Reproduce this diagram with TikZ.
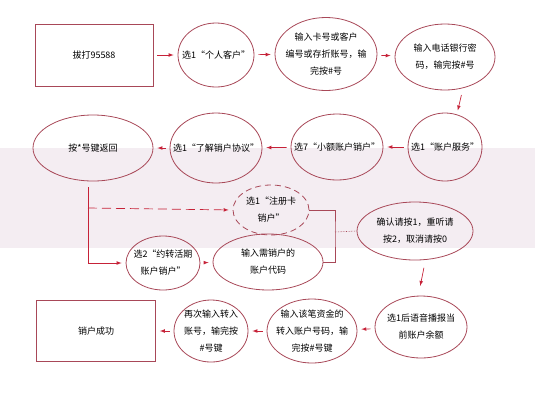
\documentclass[tikz,border=0pt]{standalone}
\usepackage{fontspec}
\setmainfont{Noto Sans CJK SC}
\usetikzlibrary{shapes,calc,positioning}
\definecolor{lineRed}{RGB}{168,72,88}
\definecolor{arrowRed}{RGB}{198,34,56}
\definecolor{bandPink}{RGB}{244,237,242}

\begin{document}
\begin{tikzpicture}[x=1pt,y=-1pt,>=latex,font=\fontsize{9}{17}\selectfont]
  \tikzstyle{stage}=[ellipse,draw=lineRed,line width=0.8pt,inner sep=0pt]
  \tikzstyle{endbox}=[rectangle,draw=lineRed,line width=0.8pt,inner sep=0pt]
  \tikzstyle{link}=[->,draw=arrowRed,line width=0.7pt,shorten <=4pt,shorten >=4pt]
  \tikzstyle{bracket}=[draw=lineRed,line width=0.6pt]
  \fill[bandPink] (0,148) rectangle (535,248);
  \useasboundingbox (0,0) rectangle (535,400);
  \node[endbox,minimum width=118,minimum height=62] (dial) at (94,55) {拔打95588};
  \node[endbox,minimum width=119,minimum height=61] (done) at (96,331) {销户成功};
  \foreach \name/\x/\y/\w/\h/\txt in {
    personal/216/55/76/64/{选1“个人客户”},
    cardno/326/54/102/73/{输入卡号或客户\\编号或存折账号，输\\完按\#号},
    password/445/57/100/66/{输入电话银行密\\码，输完按\#号},
    acctsvc/445/147/74/68/{选1“账户服务”},
    smallacct/337/147/92/66/{选7“小额账户销户”},
    protocol/216/148/92/70/{选1“了解销户协议”},
    back/93/148/120/66/{按*号键返回},
    fixed/163/263/74/54/{选2“约转活期\\账户销户”},
    acctcode/268/262/110/56/{输入需销户的\\账户代码},
    confirm/415/231/116/58/{确认请按1，重听请\\按2，取消请按0},
    balance/421/327/92/62/{选1后语音播报当\\前账户余额},
    transfer/312/331/90/64/{输入该笔资金的\\转入账户号码，输\\完按\#号键},
    again/211/331/74/62/{再次输入转入\\账号，输完按\\\#号键}}{
    \node[stage,minimum width=\w,minimum height=\h] (\name) at (\x,\y) {};
    \node[align=center] (\name-txt) at (\name) {\txt};
  }
  \node[stage,dash pattern=on 6pt off 4pt,minimum width=76,minimum height=50] (regcard) at (271,210) {};
  \node[align=center] (regcard-txt) at (regcard) {选1“注册卡\\销户”};
  % top row, left to right
  \foreach \from/\to in {dial/personal,personal/cardno,cardno/password}
    \draw[link] (\from) -- (\to);
  \draw[link,shorten <=7pt,shorten >=4pt] (password.300) -- (acctsvc.70);
  % second row, right to left
  \foreach \from/\to in {acctsvc/smallacct,smallacct/protocol,protocol/back}
    \draw[link] (\from) -- (\to);
  % branches from the return node
  \coordinate (fork) at (88,187);
  \coordinate (forkA) at (88,208);
  \coordinate (forkB) at (88,263);
  \draw[link,shorten <=0pt] (fork) -- (forkB) -- (fixed.west);
  \draw[link,dash pattern=on 9pt off 5pt,shorten <=0pt] (forkA) -- (regcard.west);
  \draw[link] (fixed) -- (acctcode);
  \coordinate (joint) at (335,232);
  \draw[bracket] (regcard.east) -| (joint) |- (acctcode.east);
  \draw[bracket,densely dotted] (joint) -- (confirm.west);
  \draw[link,shorten <=8pt,shorten >=10pt] (confirm.290) -- (balance.95);
  % bottom row, right to left
  \foreach \from/\to in {balance/transfer,transfer/again,again/done}
    \draw[link] (\from) -- (\to);
\end{tikzpicture}
\end{document}
